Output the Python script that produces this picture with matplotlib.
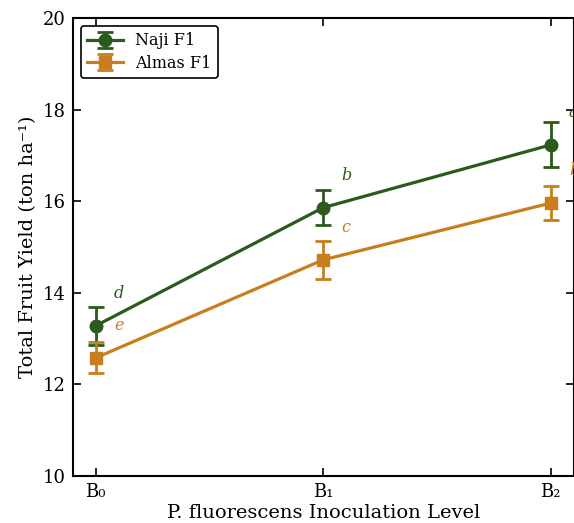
import numpy as np
import matplotlib
matplotlib.use("Agg")
import matplotlib.pyplot as plt

# data
levels = ["B₀", "B₁", "B₂"]
naji_mean = [13.28, 15.86, 17.23]
naji_err = [0.41, 0.38, 0.49]
almas_mean = [12.58, 14.72, 15.96]
almas_err = [0.34, 0.42, 0.38]
naji_letters = ["d", "b", "a"]
almas_letters = ["e", "c", "b"]

green = "#2b5a1c"
orange = "#c97d1e"

plt.rcParams["font.family"] = "DejaVu Serif"

fig = plt.figure(figsize=(5.74, 5.23), dpi=100)
ax = fig.add_axes([73 / 574, 47 / 523, 500.5 / 574, 458 / 523])

x = np.arange(len(levels))

ax.errorbar(x, naji_mean, yerr=naji_err, color=green, marker="o",
            markersize=9, linewidth=2.3, capsize=6, elinewidth=2,
            capthick=2, label="Naji F1")
ax.errorbar(x, almas_mean, yerr=almas_err, color=orange, marker="s",
            markersize=9, linewidth=2.3, capsize=6, elinewidth=2,
            capthick=2, label="Almas F1")

# significance letters
for i in range(len(levels)):
    ax.text(x[i] + 0.08, naji_mean[i] + 0.7, naji_letters[i], color=green,
            fontsize=11.5, style="italic", va="center")
    ax.text(x[i] + 0.08, almas_mean[i] + 0.7, almas_letters[i], color=orange,
            fontsize=11.5, style="italic", va="center")

ax.set_xlim(-0.1, 2.1)
ax.set_ylim(10, 20)
ax.set_xticks(x)
ax.set_xticklabels(levels)
ax.set_yticks([10, 12, 14, 16, 18, 20])
ax.tick_params(direction="in", top=True, right=True, labelsize=13,
               length=6, width=1.2, pad=5)
for s in ax.spines.values():
    s.set_linewidth(1.5)

ax.set_xlabel("P. fluorescens Inoculation Level", fontsize=14, labelpad=2)
ax.set_ylabel("Total Fruit Yield (ton ha⁻¹)", fontsize=14, labelpad=4)

leg = ax.legend(loc="upper left", fontsize=11.5, frameon=True, fancybox=True,
                edgecolor="black", framealpha=1, handlelength=2.2,
                borderaxespad=0.5, labelspacing=0.35)
leg.get_frame().set_linewidth(1.2)

fig.savefig("out.png", dpi=100)
